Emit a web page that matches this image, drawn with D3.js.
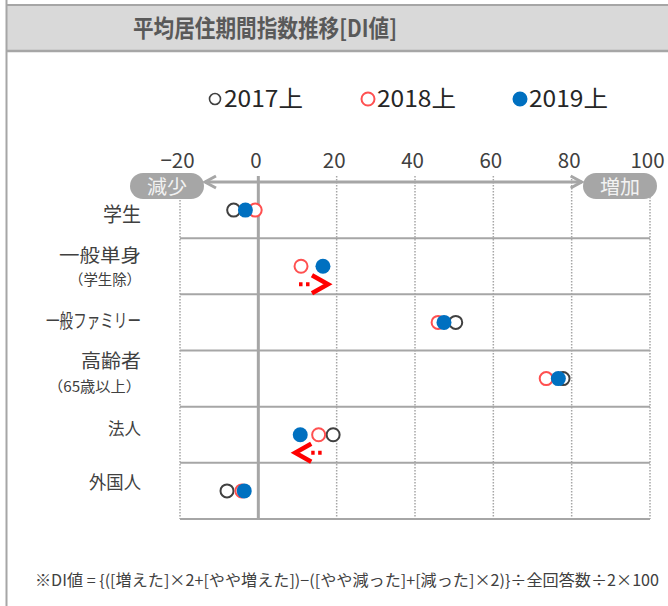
<!DOCTYPE html>
<html>
<head>
<meta charset="utf-8">
<script src="https://cdn.jsdelivr.net/npm/d3@7"></script>
<style>
  html, body { margin: 0; padding: 0; background: #fff; }
  svg { display: block; font-family: "Noto Sans CJK JP", "Noto Sans", sans-serif; }
</style>
</head>
<body>
<svg id="chart" width="668" height="606"></svg>
<script>
// ---- data ----
const categories = ["学生", "一般単身", "一般ファミリー", "高齢者", "法人", "外国人"];
const categoryLines = [
  ["学生"],
  ["一般単身", "（学生除）"],
  ["一般ファミリー"],
  ["高齢者", "（65歳以上）"],
  ["法人"],
  ["外国人"]
];
const seriesNames = ["2017上", "2018上", "2019上"];
const values2017 = [-6.3, null, 50.4, 77.8, 19.1, -8.0];
const values2018 = [-0.8, 10.9, 45.9, 73.5, 15.4, -4.2];
const values2019 = [-3.3, 16.5, 47.4, 76.6, 10.7, -3.6];
const tickValues = [-20, 0, 20, 40, 60, 80, 100];
const tickLabels = ["−20", "0", "20", "40", "60", "80", "100"];
const trendCategories = ["一般単身", "法人"];   // rows carrying a change arrow
const title = "平均居住期間指数推移[DI値]";
const scaleLabels = ["減少", "増加"];
const footnote = "※DI値 = {([増えた]×2+[やや増えた])−([やや減った]+[減った]×2)}÷全回答数÷2×100";

// ---- styles ----
const GRID = "#a6a6a6";
const TEXT = "#404040";
const seriesStyle = [
  { stroke: "#404040", fill: "#fff" },
  { stroke: "#ff5050", fill: "#fff" },
  { stroke: "#0070c0", fill: "#0070c0" }
];
// per-row label layout: [font size, baseline offset from row centre, target width]
const labelLayout = [
  [[20, 11.5, 38]],
  [[18.5, -4, 82], [14.5, 19, 72]],
  [[19, 6, 95]],
  [[19, -10.5, 60], [14.5, 13, 93]],
  [[17, 0, 33]],
  [[18, -1.5, 52]]
];

const svg = d3.select("#chart");

// ---- frame & title band ----
svg.append("rect").attr("x", 7).attr("y", 4).attr("width", 661).attr("height", 48)
  .attr("fill", "#d9d9d9");
svg.append("line").attr("x1", 7).attr("x2", 668).attr("y1", 5).attr("y2", 5)
  .attr("stroke", GRID).attr("stroke-width", 2);
svg.append("line").attr("x1", 7).attr("x2", 668).attr("y1", 51).attr("y2", 51)
  .attr("stroke", GRID).attr("stroke-width", 2.5);
svg.append("line").attr("x1", 6.5).attr("x2", 6.5).attr("y1", 0).attr("y2", 606)
  .attr("stroke", GRID).attr("stroke-width", 2);
svg.append("text").attr("x", 133).attr("y", 37)
  .attr("font-size", 23.5).attr("font-weight", "bold").attr("fill", "#595959")
  .attr("textLength", 264).attr("lengthAdjust", "spacingAndGlyphs")
  .text(title);

// ---- legend ----
const legendX = [215, 368, 520];
const legend = svg.append("g");
seriesNames.forEach((name, i) => {
  legend.append("circle").attr("cx", legendX[i]).attr("cy", 99)
    .attr("r", i === 0 ? 5.5 : 6.5)
    .attr("fill", seriesStyle[i].fill).attr("stroke", seriesStyle[i].stroke)
    .attr("stroke-width", i === 0 ? 1.6 : 2);
  legend.append("text").attr("x", legendX[i] + 9).attr("y", 107)
    .attr("font-size", 23).attr("fill", "#262626")
    .attr("textLength", 79).attr("lengthAdjust", "spacingAndGlyphs")
    .text(name);
});

// ---- scales ----
const x = d3.scaleLinear().domain([-20, 100]).range([180, 650]);
const y = d3.scaleBand().domain(categories).range([182, 519]).padding(0);
const yc = c => y(c) + y.bandwidth() / 2;

// ---- axis labels along the top ----
const axis = d3.axisTop(x).tickValues(tickValues)
  .tickFormat((d, i) => tickLabels[i]).tickSize(0).tickPadding(0);
const axisG = svg.append("g").attr("transform", "translate(-3,168)").call(axis);
axisG.select(".domain").remove();
axisG.selectAll("text").attr("font-size", 20.5).attr("fill", TEXT)
  .attr("font-family", "'Noto Sans CJK JP', sans-serif").attr("dy", 0);

// ---- gridlines ----
const gridTop = 176, gridBottom = y.range()[1];
svg.append("g").selectAll("line")
  .data(tickValues.filter(v => v !== 0))
  .join("line")
  .attr("x1", d => x(d)).attr("x2", d => x(d))
  .attr("y1", gridTop).attr("y2", gridBottom)
  .attr("stroke", GRID).attr("stroke-width", 1.5).attr("stroke-dasharray", "1.5,1.5");

svg.append("g").selectAll("line")
  .data(categories)
  .join("line")
  .attr("x1", x.range()[0]).attr("x2", x.range()[1])
  .attr("y1", d => y(d) + y.bandwidth()).attr("y2", d => y(d) + y.bandwidth())
  .attr("stroke", GRID).attr("stroke-width", 2);

svg.append("line")
  .attr("x1", x(0)).attr("x2", x(0)).attr("y1", gridTop).attr("y2", gridBottom)
  .attr("stroke", GRID).attr("stroke-width", 3);

// ---- decrease / increase scale arrow ----
const arrowY = 182;
const aL = x(-20) + 25, aR = x(80) + 10;
svg.append("line").attr("x1", aL).attr("x2", aR).attr("y1", arrowY).attr("y2", arrowY)
  .attr("stroke", GRID).attr("stroke-width", 3);
svg.append("path")
  .attr("d", `M${aL + 11},${arrowY - 6}L${aL},${arrowY}L${aL + 11},${arrowY + 6}`)
  .attr("fill", "none").attr("stroke", GRID).attr("stroke-width", 3);
svg.append("path")
  .attr("d", `M${aR - 11},${arrowY - 6}L${aR},${arrowY}L${aR - 11},${arrowY + 6}`)
  .attr("fill", "none").attr("stroke", GRID).attr("stroke-width", 3);

const pills = [
  { cx: x(-20) - 13, label: scaleLabels[0] },
  { cx: x(100) - 30, label: scaleLabels[1] }
];
pills.forEach(p => {
  svg.append("rect").attr("x", p.cx - 37).attr("y", 173).attr("width", 74).attr("height", 26)
    .attr("rx", 13).attr("fill", "#a6a6a6");
  svg.append("text").attr("x", p.cx).attr("y", 193.5).attr("text-anchor", "middle")
    .attr("font-size", 19.5).attr("fill", "#f2f2f2")
    .attr("textLength", 40).attr("lengthAdjust", "spacingAndGlyphs")
    .text(p.label);
});

// ---- category labels ----
const labelG = svg.append("g");
categories.forEach((c, i) => {
  categoryLines[i].forEach((line, j) => {
    const [fs, base, w] = labelLayout[i][j];
    labelG.append("text")
      .attr("x", 141).attr("y", yc(c) + base)
      .attr("text-anchor", "end").attr("fill", TEXT)
      .attr("font-size", fs)
      .attr("textLength", w).attr("lengthAdjust", "spacingAndGlyphs")
      .text(line);
  });
});

// ---- change arrows (2018 -> 2019) ----
const arrowG = svg.append("g");
trendCategories.forEach(c => {
  const i = categories.indexOf(c);
  const from = x(values2018[i]), to = x(values2019[i]);
  const dir = Math.sign(to - from);
  const ay = yc(c) + 18;
  const tip = to + dir * 5;
  const base = tip - dir * 16;
  const tail = from + (dir > 0 ? -2 : 3);
  arrowG.append("line").attr("x1", tail).attr("x2", base).attr("y1", ay).attr("y2", ay)
    .attr("stroke", "#ff0000").attr("stroke-width", 4).attr("stroke-dasharray", "3.5,3.5");
  arrowG.append("path")
    .attr("d", `M${tip - dir * 16},${ay - 9}L${tip},${ay}L${tip - dir * 16},${ay + 9}`)
    .attr("fill", "none").attr("stroke", "#ff0000").attr("stroke-width", 4.5)
    .attr("stroke-linejoin", "miter");
});

// ---- markers ----
const allSeries = [values2017, values2018, values2019];
allSeries.forEach((vals, s) => {
  svg.append("g").selectAll("circle")
    .data(categories.map((c, i) => ({ c, v: vals[i] })).filter(d => d.v !== null))
    .join("circle")
    .attr("cx", d => x(d.v)).attr("cy", d => yc(d.c))
    .attr("r", s === 2 ? 7.5 : 6.5)
    .attr("fill", seriesStyle[s].fill)
    .attr("stroke", seriesStyle[s].stroke)
    .attr("stroke-width", s === 2 ? 0 : 2);
});

// ---- footnote ----
svg.append("text").attr("x", 35).attr("y", 586)
  .attr("font-size", 15.5).attr("fill", TEXT)
  .attr("textLength", 624).attr("lengthAdjust", "spacingAndGlyphs")
  .text(footnote);
</script>
</body>
</html>
